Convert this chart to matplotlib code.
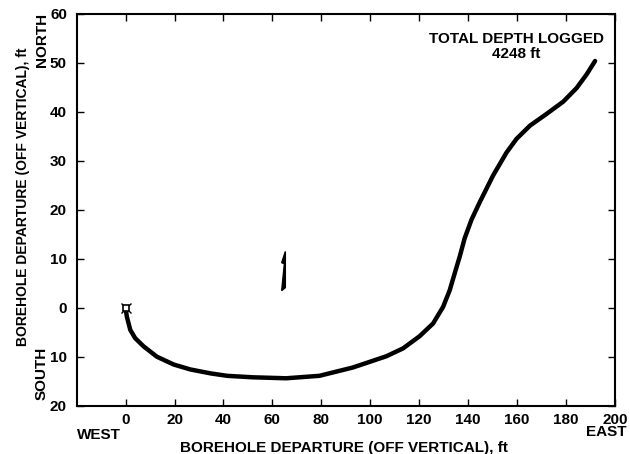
import matplotlib.pyplot as plt

# borehole path, plan view (ft east / ft north of the wellhead)
east = [0, 0.5, 1.9, 3.9, 7.4, 12.8, 19.7, 26.5, 34.7, 41.5, 51.9, 65.6,
        79.2, 92.9, 106.6, 113.4, 120.2, 125.7, 129.8, 132.5, 134.5, 136.6,
        138.6, 141.4, 144.8, 150.2, 155.7, 159.8, 165.3, 172.1, 178.9,
        184.4, 188.5, 191.9]
north = [0, -1.8, -4.5, -6.2, -7.9, -10.0, -11.6, -12.6, -13.4, -13.9, -14.2,
         -14.4, -13.9, -12.2, -9.9, -8.3, -5.8, -3.2, 0.2, 3.6, 7.0, 10.5,
         14.2, 18.0, 21.6, 27.0, 31.7, 34.5, 37.2, 39.6, 42.1, 44.9, 47.7,
         50.4]

x_ticks = [0, 20, 40, 60, 80, 100, 120, 140, 160, 180, 200]
y_ticks = [-20, -10, 0, 10, 20, 30, 40, 50, 60]
y_tick_labels = ['20', '10', '0', '10', '20', '30', '40', '50', '60']

total_depth = '4248 ft'


def main():
    plt.rcParams['font.family'] = ['Liberation Sans', 'DejaVu Sans']
    plt.rcParams['font.weight'] = 'bold'
    plt.rcParams['font.size'] = 11

    fig = plt.figure(figsize=(6.3, 4.54), dpi=100)
    ax = fig.add_axes([0.1217, 0.1064, 0.8543, 0.8628])

    ax.plot(east, north, color='black', lw=3.2, solid_capstyle='round',
            solid_joinstyle='round', zorder=3)
    # wellhead symbol
    ax.plot(east[0], north[0], marker='x', ms=7, mew=1.0, color='black', zorder=4)
    ax.plot(east[0], north[0], marker='s', ms=4.5, mew=1.2, mfc='white',
            mec='black', zorder=5)

    # north arrow
    ax_x, ax_y = 65.3, 3.5
    arrow_dx = [0, -1.5, -0.4, -1.5, 0]
    arrow_dy = [8.0, 5.7, 5.5, 0, 0.6]
    ax.fill([ax_x + d for d in arrow_dx], [ax_y + d for d in arrow_dy],
            color='black', lw=1.0, ec='black', zorder=3)

    ax.text(159.6, 53.3, 'TOTAL DEPTH LOGGED\n' + total_depth, ha='center',
            va='center', linespacing=1.1, fontsize=11, fontweight='bold')

    ax.set_xlim(-20, 200)
    ax.set_ylim(-20, 60)
    ax.set_xticks(x_ticks)
    ax.set_yticks(y_ticks)
    ax.set_yticklabels(y_tick_labels)
    ax.tick_params(direction='in', length=5, width=1.0, top=True, right=True,
                   labelsize=11, pad=7)
    ax.tick_params(axis='x', pad=5)
    for s in ax.spines.values():
        s.set_linewidth(1.5)

    ax.set_xlabel('BOREHOLE DEPARTURE (OFF VERTICAL), ft', fontsize=11,
                  fontweight='bold')
    ax.xaxis.set_label_coords(0.497, -0.108)
    ax.xaxis.label.set_va('center')
    ax.set_ylabel('BOREHOLE DEPARTURE (OFF VERTICAL), ft', fontsize=10,
                  fontweight='bold')
    ax.yaxis.set_label_coords(-0.0998, 0.533)
    ax.yaxis.label.set_va('center')

    ax.text(-0.0645, 1.0026, 'NORTH', rotation=90, ha='center', va='top',
            transform=ax.transAxes, fontsize=11, fontweight='bold')
    ax.text(-0.0645, 0.0146, 'SOUTH', rotation=90, ha='center', va='bottom',
            transform=ax.transAxes, fontsize=11, fontweight='bold')
    ax.text(0.0, -0.075, 'WEST', ha='left', va='center',
            transform=ax.transAxes, fontsize=11, fontweight='bold')
    ax.text(1.022, -0.068, 'EAST', ha='right', va='center',
            transform=ax.transAxes, fontsize=11, fontweight='bold')

    fig.savefig('out.png', dpi=100)


if __name__ == "__main__":
    main()
